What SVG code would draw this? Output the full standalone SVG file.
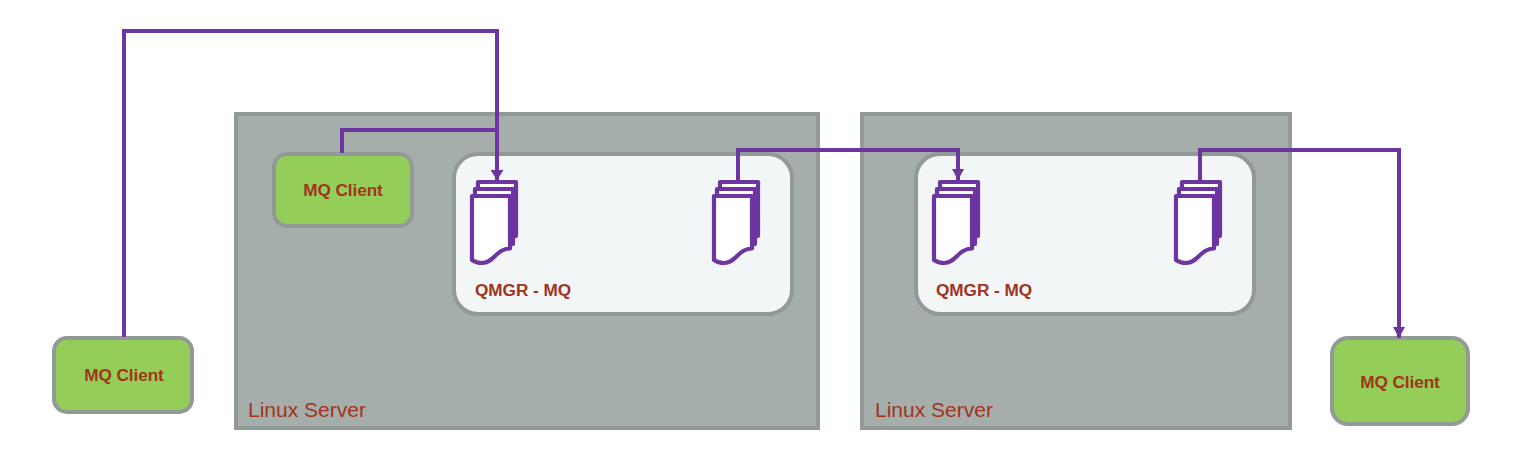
<svg xmlns="http://www.w3.org/2000/svg" width="1516" height="474" viewBox="0 0 1516 474">
<style>
.server{fill:#a6aeac;stroke:#929a98;stroke-width:4}
.panel{fill:#f2f6f7;stroke:#929a98;stroke-width:4}
.client{fill:#94ce58;stroke:#929a98;stroke-width:4}
.label{font-family:"Liberation Sans",Arial,sans-serif;fill:#a1341c}
.b{font-weight:bold;font-size:17.2px;text-anchor:middle;letter-spacing:-0.1px}
.q{font-weight:bold;font-size:17.2px;letter-spacing:-0.05px}
.s{font-size:21px}
.doc{fill:#fff;stroke:#6c359f;stroke-width:4.2;stroke-linejoin:round}
.conn{fill:none;stroke:#6c359f;stroke-width:4}
.head{fill:#6c359f}
</style>
<defs>
<marker id="arrow-l" markerUnits="userSpaceOnUse" markerWidth="10" markerHeight="13" refX="10" refY="6.5" orient="auto">
<path class="head" d="M0 0L10 6.5L0 13Z"/>
</marker>
<marker id="arrow" markerUnits="userSpaceOnUse" markerWidth="11" markerHeight="12" refX="11" refY="6" orient="auto">
<path class="head" d="M0 0L11 6L0 12Z"/>
</marker>
<g id="docs">
<path class="doc" d="M8 2H46V56C38 56 34 60 28 66H8Z"/>
<path class="doc" d="M5 9H43V64C35 64 31 68 25 73H5Z"/>
<path class="doc" d="M2 16H40V68.500C26 68.500 24 83 12 83C8 83 5 82 2 80Z"/>
</g>
</defs>
<g id="server-1">
<rect class="server" x="236" y="114" width="582" height="314"/>
<text class="label s" x="248" y="417">Linux Server</text>
</g>
<g id="server-2">
<rect class="server" x="862" y="114" width="428" height="314"/>
<text class="label s" x="875" y="417">Linux Server</text>
</g>
<g id="qmgr-1">
<rect class="panel" x="454" y="154" width="338" height="160" rx="24"/>
<use href="#docs" x="470" y="180"/>
<use href="#docs" x="712" y="180"/>
<text class="label q" x="475" y="296">QMGR - MQ</text>
</g>
<g id="qmgr-2">
<rect class="panel" x="916" y="154" width="338" height="160" rx="24"/>
<use href="#docs" x="932" y="180"/>
<use href="#docs" x="1174" y="180"/>
<text class="label q" x="936" y="296">QMGR - MQ</text>
</g>
<g id="client-inner">
<rect class="client" x="274" y="154" width="138" height="72" rx="13"/>
<text class="label b" x="343" y="196">MQ Client</text>
</g>
<g id="client-left">
<rect class="client" x="54" y="338" width="138" height="74" rx="13"/>
<text class="label b" x="124" y="381">MQ Client</text>
</g>
<g id="client-right">
<rect class="client" x="1332" y="338" width="136" height="86" rx="16"/>
<text class="label b" x="1400" y="388">MQ Client</text>
</g>
<g id="connectors">
<path class="conn" d="M124 337V31H497V180" marker-end="url(#arrow-l)"/>
<path class="conn" d="M342 153V130H497"/>
<path class="conn" d="M738 181V150H958V180" marker-end="url(#arrow)"/>
<path class="conn" d="M1200 181V150H1399V338" marker-end="url(#arrow)"/>
</g>
</svg>
